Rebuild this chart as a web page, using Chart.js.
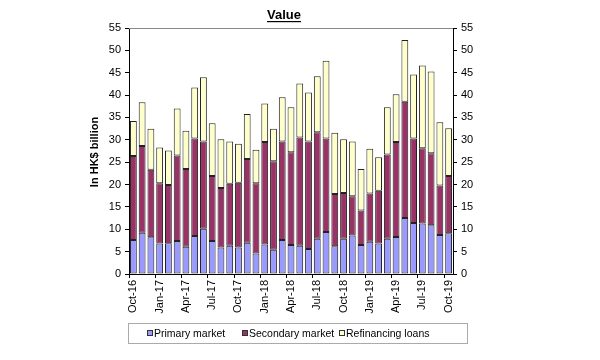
<!DOCTYPE html>
<html>
<head>
<meta charset="utf-8">
<script src="https://cdn.jsdelivr.net/npm/chart.js@4/dist/chart.umd.min.js"></script>
<style>
  body { margin: 0; background: #fff; }
</style>
</head>
<body>
<canvas id="chart" width="600" height="360"></canvas>
<script>
const months = ['Oct-16','Nov-16','Dec-16','Jan-17','Feb-17','Mar-17','Apr-17','May-17','Jun-17','Jul-17','Aug-17','Sep-17',
    'Oct-17','Nov-17','Dec-17','Jan-18','Feb-18','Mar-18','Apr-18','May-18','Jun-18','Jul-18','Aug-18','Sep-18',
    'Oct-18','Nov-18','Dec-18','Jan-19','Feb-19','Mar-19','Apr-19','May-19','Jun-19','Jul-19','Aug-19','Sep-19','Oct-19'];

// HK$ billion, one value per month (stacked segments)
const primaryMarket = [7.6, 9.2, 8.2, 6.8, 6.9, 7.4, 6.1, 8.5, 10.1, 7.4, 5.9, 6.3,
    5.9, 7.0, 4.6, 6.6, 5.4, 7.6, 6.5, 6.3, 5.6, 7.9, 9.4, 6.2,
    7.9, 8.6, 6.5, 7.2, 6.8, 7.9, 8.3, 12.5, 11.4, 11.3, 10.9, 8.7, 9.1];
const secondaryMarket = [18.8, 19.4, 15.1, 13.5, 13.0, 19.1, 17.4, 21.8, 19.5, 14.5, 13.3, 13.9,
    14.5, 18.7, 15.7, 22.9, 19.8, 22.0, 20.7, 24.2, 24.0, 23.8, 20.9, 11.7,
    10.2, 8.8, 7.7, 10.8, 11.8, 18.8, 21.2, 26.0, 18.9, 16.8, 16.1, 11.1, 12.8];
const refinancingLoans = [7.8, 9.8, 9.2, 8.0, 7.7, 10.5, 8.5, 11.4, 14.4, 11.8, 10.9, 9.4,
    8.7, 10.1, 7.5, 8.6, 7.3, 9.9, 10.1, 12.1, 11.0, 12.5, 17.4, 13.7,
    12.0, 12.2, 9.3, 10.0, 7.5, 10.6, 10.7, 13.8, 14.3, 18.5, 18.3, 14.1, 10.7];

const seriesNames = ['Primary market', 'Secondary market', 'Refinancing loans'];
const seriesColors = ['#9999ff', '#993366', '#ffffcc'];
const yTicks = { min: 0, max: 55, step: 5 };

const FONT = '"Liberation Sans", Arial, sans-serif';

// title, axis title, frame top and boxed legend
const extras = {
    id: 'extras',
    afterDraw(chart) {
        const ctx = chart.ctx;
        const area = chart.chartArea;
        ctx.save();

        // top border of plot
        ctx.strokeStyle = '#888';
        ctx.lineWidth = 1;
        ctx.beginPath();
        ctx.moveTo(area.left, area.top + 0.5);
        ctx.lineTo(area.right, area.top + 0.5);
        ctx.stroke();

        // title
        ctx.fillStyle = '#000';
        ctx.font = 'bold 13px ' + FONT;
        ctx.textAlign = 'center';
        ctx.textBaseline = 'alphabetic';
        const tw = ctx.measureText('Value').width;
        ctx.fillText('Value', 284, 19);
        ctx.fillRect(284 - tw / 2, 21, tw, 1.2);

        // y axis title
        ctx.save();
        ctx.translate(95, 152);
        ctx.rotate(-Math.PI / 2);
        ctx.font = 'bold 11px ' + FONT;
        ctx.textBaseline = 'middle';
        ctx.fillText('In HK$ billion', 0, 0);
        ctx.restore();

        // legend
        ctx.strokeStyle = '#aaa';
        ctx.strokeRect(128.5, 323.5, 339, 20);
        const itemX = [147, 242, 339];
        ctx.font = '10.5px ' + FONT;
        ctx.textAlign = 'left';
        ctx.textBaseline = 'middle';
        for (let i = 0; i < seriesNames.length; i++) {
            ctx.fillStyle = seriesColors[i];
            ctx.fillRect(itemX[i], 330, 6, 6);
            ctx.strokeStyle = '#333';
            ctx.strokeRect(itemX[i] + 0.5, 330.5, 5, 5);
            ctx.fillStyle = '#000';
            ctx.fillText(seriesNames[i], itemX[i] + 7, 334);
        }
        ctx.restore();
    }
};

const datasets = [primaryMarket, secondaryMarket, refinancingLoans].map((d, i) => ({
    label: seriesNames[i],
    data: d,
    backgroundColor: seriesColors[i],
    borderColor: '#222',
    borderWidth: 1,
    borderSkipped: false,
    barPercentage: 0.78,
    categoryPercentage: 1
}));

const tickFont = { family: FONT, size: 11 };

new Chart(document.getElementById('chart').getContext('2d'), {
    type: 'bar',
    data: { labels: months, datasets: datasets },
    options: {
        responsive: false,
        animation: false,
        layout: { padding: { left: 85, right: 117, top: 28, bottom: 41 } },
        plugins: {
            legend: { display: false },
            tooltip: { enabled: false }
        },
        scales: {
            x: {
                stacked: true,
                grid: {
                    offset: true,
                    drawOnChartArea: false,
                    tickLength: 4,
                    color: (c) => (c.index % 3 === 0 ? '#000' : 'rgba(0,0,0,0)')
                },
                border: { color: '#000' },
                ticks: {
                    autoSkip: false,
                    maxRotation: 90,
                    minRotation: 90,
                    color: '#000',
                    font: tickFont,
                    padding: 2,
                    callback: (v, i) => (i % 3 === 0 ? months[i] : '')
                },
                afterFit: (s) => { s.height = 45; }
            },
            y: {
                stacked: true,
                position: 'left',
                min: yTicks.min,
                max: yTicks.max,
                ticks: { stepSize: yTicks.step, color: '#000', font: tickFont, padding: 4 },
                grid: { drawOnChartArea: false, tickLength: 4, color: '#000' },
                border: { color: '#000' },
                afterFit: (s) => { s.width = 44; }
            },
            y2: {
                position: 'right',
                min: yTicks.min,
                max: yTicks.max,
                ticks: { stepSize: yTicks.step, color: '#000', font: tickFont, padding: 4 },
                grid: { drawOnChartArea: false, tickLength: 4, color: '#000' },
                border: { color: '#000' },
                afterFit: (s) => { s.width = 30; }
            }
        }
    },
    plugins: [extras]
});
</script>
</body>
</html>
